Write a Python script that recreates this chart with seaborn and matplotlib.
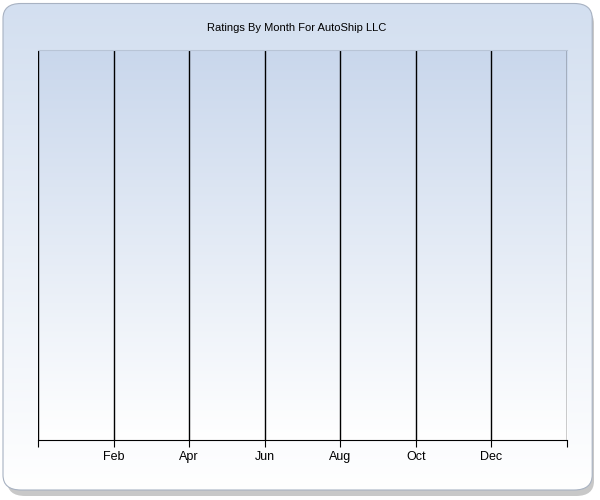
import numpy as np
import seaborn as sns
import matplotlib.pyplot as plt
from matplotlib.patches import FancyBboxPatch
from matplotlib.colors import LinearSegmentedColormap

# month positions on the axis and the labelled ones
tick_pos = [0, 2, 4, 6, 8, 10, 12, 14]
label_pos = [2, 4, 6, 8, 10, 12]
month_labels = ['Feb', 'Apr', 'Jun', 'Aug', 'Oct', 'Dec']
# no ratings recorded for this company
rating_months = []
rating_values = []

sns.set_style('white')
plt.rcParams['font.family'] = ['Liberation Sans', 'DejaVu Sans']

fig = plt.figure(figsize=(6, 5), dpi=100)
fig.patch.set_facecolor('white')

# background axes: shadow + rounded frame with vertical gradient
bg_ax = fig.add_axes([0, 0, 1, 1], zorder=-1)
bg_ax.axis('off')
bg_ax.set_xlim(0, 1)
bg_ax.set_ylim(0, 1)
bg_ax.add_patch(FancyBboxPatch((0.012, 0.008), 0.978, 0.975, boxstyle='round,pad=0,rounding_size=0.03',
                               fc='#c8c8c8', ec='none', zorder=1))
grad = np.linspace(0, 1, 256).reshape(-1, 1)
outer_cmap = LinearSegmentedColormap.from_list('o', ['#d3dff0', '#ffffff'])
im = bg_ax.imshow(grad, cmap=outer_cmap, extent=[0.005, 0.987, 0.02, 0.993], aspect='auto', zorder=2)
clip = FancyBboxPatch((0.005, 0.02), 0.982, 0.973, boxstyle='round,pad=0,rounding_size=0.03',
                      transform=bg_ax.transData, fc='none')
im.set_clip_path(clip)
bg_ax.add_patch(FancyBboxPatch((0.005, 0.02), 0.982, 0.973, boxstyle='round,pad=0,rounding_size=0.03',
                               fc='none', ec='#a8b2c2', lw=0.8, zorder=3))

ax = fig.add_axes([0.0633, 0.12, 0.8817, 0.78])
ax.patch.set_alpha(0)
inner_cmap = LinearSegmentedColormap.from_list('i', ['#c9d7ec', '#ffffff'])
ax.imshow(grad, cmap=inner_cmap, extent=[0, 1, 0, 1], transform=ax.transAxes, aspect='auto', zorder=0)
sns.lineplot(x=rating_months, y=rating_values, ax=ax)

ax.set_xlim(0, 14)
ax.set_ylim(0, 1)
for x in tick_pos:
    ax.axvline(x, color='black', lw=1, zorder=1)
ax.set_xticks(tick_pos)
ax.set_xticklabels([month_labels[label_pos.index(p)] if p in label_pos else '' for p in tick_pos], fontsize=9)
ax.tick_params(axis='x', direction='out', length=5, color='black', labelcolor='black', bottom=True, pad=3)
ax.set_yticks([])
for s in ['left', 'right']:
    ax.spines[s].set_visible(False)
ax.spines['top'].set_color('#b8c4d6')
ax.spines['bottom'].set_color('black')
ax.set_xlabel('')
ax.set_ylabel('')

fig.text(0.495, 0.944, 'Ratings By Month For AutoShip LLC', ha='center', va='center', fontsize=8, color='black')

fig.savefig('out.png', dpi=100)
